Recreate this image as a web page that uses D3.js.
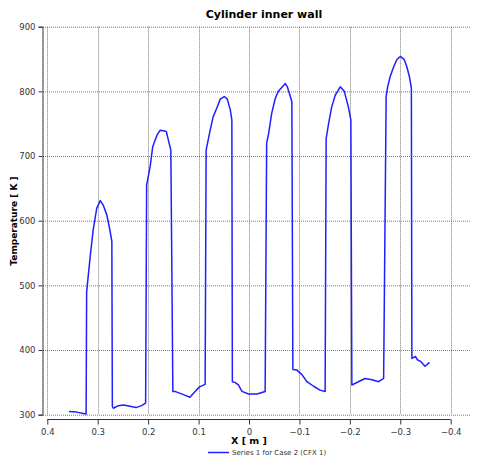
<!DOCTYPE html>
<html>
<head>
<meta charset="utf-8">
<script src="https://cdn.jsdelivr.net/npm/d3@7"></script>
<style>
  body { margin: 0; background: #fff; }
  text { font-family: "DejaVu Sans", Verdana, sans-serif; }
</style>
</head>
<body>
<div id="chart"></div>
<script>
// data (X in m, temperature in K)
var xVals = [0.357, 0.342, 0.323, 0.322, 0.315, 0.309, 0.302, 0.295, 0.289, 0.282, 0.276, 0.272,
  0.271, 0.269, 0.259, 0.249, 0.236, 0.224, 0.213, 0.205,
  0.203, 0.196, 0.191, 0.186, 0.182, 0.176, 0.170, 0.164, 0.160, 0.155,
  0.151, 0.147, 0.130, 0.117, 0.107, 0.098, 0.087,
  0.085, 0.077, 0.071, 0.064, 0.057, 0.049, 0.043, 0.037, 0.034,
  0.033, 0.028, 0.021, 0.014, 0.001, -0.016, -0.032,
  -0.035, -0.039, -0.045, -0.052, -0.058, -0.065, -0.072, -0.076, -0.082, -0.085,
  -0.087, -0.095, -0.105, -0.115, -0.128, -0.141, -0.151,
  -0.153, -0.158, -0.164, -0.171, -0.181, -0.189, -0.197, -0.202,
  -0.204, -0.217, -0.230, -0.244, -0.257, -0.267,
  -0.272, -0.275, -0.280, -0.287, -0.293, -0.300, -0.308, -0.313, -0.318, -0.322,
  -0.323, -0.330, -0.334, -0.341, -0.349, -0.358]
var tempVals = [305, 304, 301, 490, 544, 586, 619, 631, 624, 609, 586, 568,
  313, 310, 314, 315, 313, 311, 314, 318,
  655, 684, 714, 725, 733, 740, 739, 738, 725, 709,
  336, 336, 331, 327, 336, 343, 347,
  709, 740, 761, 774, 788, 792, 788, 771, 756,
  351, 350, 346, 336, 332, 332, 336,
  720, 735, 766, 789, 800, 806, 812, 807, 792, 784,
  370, 369, 362, 351, 344, 338, 336,
  727, 751, 776, 794, 807, 800, 776, 756,
  346, 351, 356, 354, 351, 356,
  792, 807, 823, 838, 849, 854, 849, 838, 823, 805,
  387, 390, 385, 382, 375, 381]

var xTicks = [0.4, 0.3, 0.2, 0.1, 0, -0.1, -0.2, -0.3, -0.4]
var yTicks = [300, 400, 500, 600, 700, 800, 900]

var chartTitle = "Cylinder inner wall"
var xTitle = "X [ m ]"
var yTitle = "Temperature [ K ]"
var seriesName = "Series 1 for Case 2 (CFX 1)"

var widthSvg = 481
var heightSvg = 456
var lineColor = "#1f1fff"

var svg = d3.select("#chart").append("svg")
  .attr("width", widthSvg)
  .attr("height", heightSvg)

// scales: x runs from +0.4 on the left to -0.4 on the right
var scaleX = d3.scaleLinear().domain([0.4, -0.4]).range([47.3, 450.7])
var scaleY = d3.scaleLinear().domain([300, 900]).range([414.7, 26.7])

// plot area edges
var plotLeft = 43
var plotRight = 470

// dotted grid
svg.append("g").selectAll("line")
  .data(yTicks)
  .enter().append("line")
  .attr("x1", plotLeft).attr("x2", plotRight)
  .attr("y1", function(d) { return scaleY(d) + 0.5 })
  .attr("y2", function(d) { return scaleY(d) + 0.5 })
  .attr("stroke", "#777")
  .attr("stroke-dasharray", "1,1")
  .attr("stroke-width", 1)

svg.append("g").selectAll("line")
  .data(xTicks)
  .enter().append("line")
  .attr("x1", function(d) { return Math.round(scaleX(d)) + 0.5 })
  .attr("x2", function(d) { return Math.round(scaleX(d)) + 0.5 })
  .attr("y1", scaleY(900)).attr("y2", scaleY(300))
  .attr("stroke", "#777")
  .attr("stroke-dasharray", "1,1")
  .attr("stroke-width", 1)

// y axis with minor ticks
var yAxis = d3.axisLeft(scaleY).tickValues(yTicks).tickSize(4).tickPadding(3)
var yMinor = d3.axisLeft(scaleY).ticks(30).tickSize(2).tickFormat("")

var yg = svg.append("g").attr("transform", "translate(" + (plotLeft - 0.5) + ",0)")
yg.call(yMinor)
yg.call(yAxis)
yg.selectAll(".domain").attr("stroke", "#333")
yg.selectAll(".tick line").attr("stroke", "#333")
yg.selectAll("text").style("font-size", "8.5px").attr("fill", "#333")

// x axis with minor ticks, sits a little below the plot
var xAxis = d3.axisBottom(scaleX).tickValues(xTicks).tickSize(5).tickPadding(4)
  .tickFormat(function(d) { return d === 0 ? "0" : d3.format(".1f")(d) })
var xMinor = d3.axisBottom(scaleX).tickValues(d3.range(-0.4, 0.401, 0.02)).tickSize(3).tickFormat("")

var xg = svg.append("g").attr("transform", "translate(0," + 419.5 + ")")
xg.call(xMinor)
xg.call(xAxis)
xg.selectAll(".domain").attr("stroke", "#333").attr("d", "M" + scaleX(0.4) + ",0H" + scaleX(-0.4))
xg.selectAll(".tick line").attr("stroke", "#333")
xg.selectAll("text").style("font-size", "8.5px").attr("fill", "#333")

// the temperature curve
var points = xVals.map(function(x, i) { return [x, tempVals[i]] })
var line = d3.line()
  .x(function(d) { return scaleX(d[0]) })
  .y(function(d) { return scaleY(d[1]) })

svg.append("path")
  .datum(points)
  .attr("d", line)
  .attr("fill", "none")
  .attr("stroke", lineColor)
  .attr("stroke-width", 1.5)
  .attr("stroke-linejoin", "round")

// titles
svg.append("text")
  .attr("x", 264).attr("y", 18)
  .attr("text-anchor", "middle")
  .style("font-size", "11px").style("font-weight", "bold")
  .text(chartTitle)

svg.append("text")
  .attr("x", 249).attr("y", 444)
  .attr("text-anchor", "middle")
  .style("font-size", "9.5px").style("font-weight", "bold")
  .text(xTitle)

svg.append("text")
  .attr("transform", "translate(17,221) rotate(-90)")
  .attr("text-anchor", "middle")
  .style("font-size", "9px").style("font-weight", "bold")
  .text(yTitle)

// legend
svg.append("line")
  .attr("x1", 208).attr("x2", 229)
  .attr("y1", 452.5).attr("y2", 452.5)
  .attr("stroke", lineColor).attr("stroke-width", 1.5)

svg.append("text")
  .attr("x", 232).attr("y", 455)
  .style("font-size", "7px").attr("fill", "#333")
  .text(seriesName)
</script>
</body>
</html>
